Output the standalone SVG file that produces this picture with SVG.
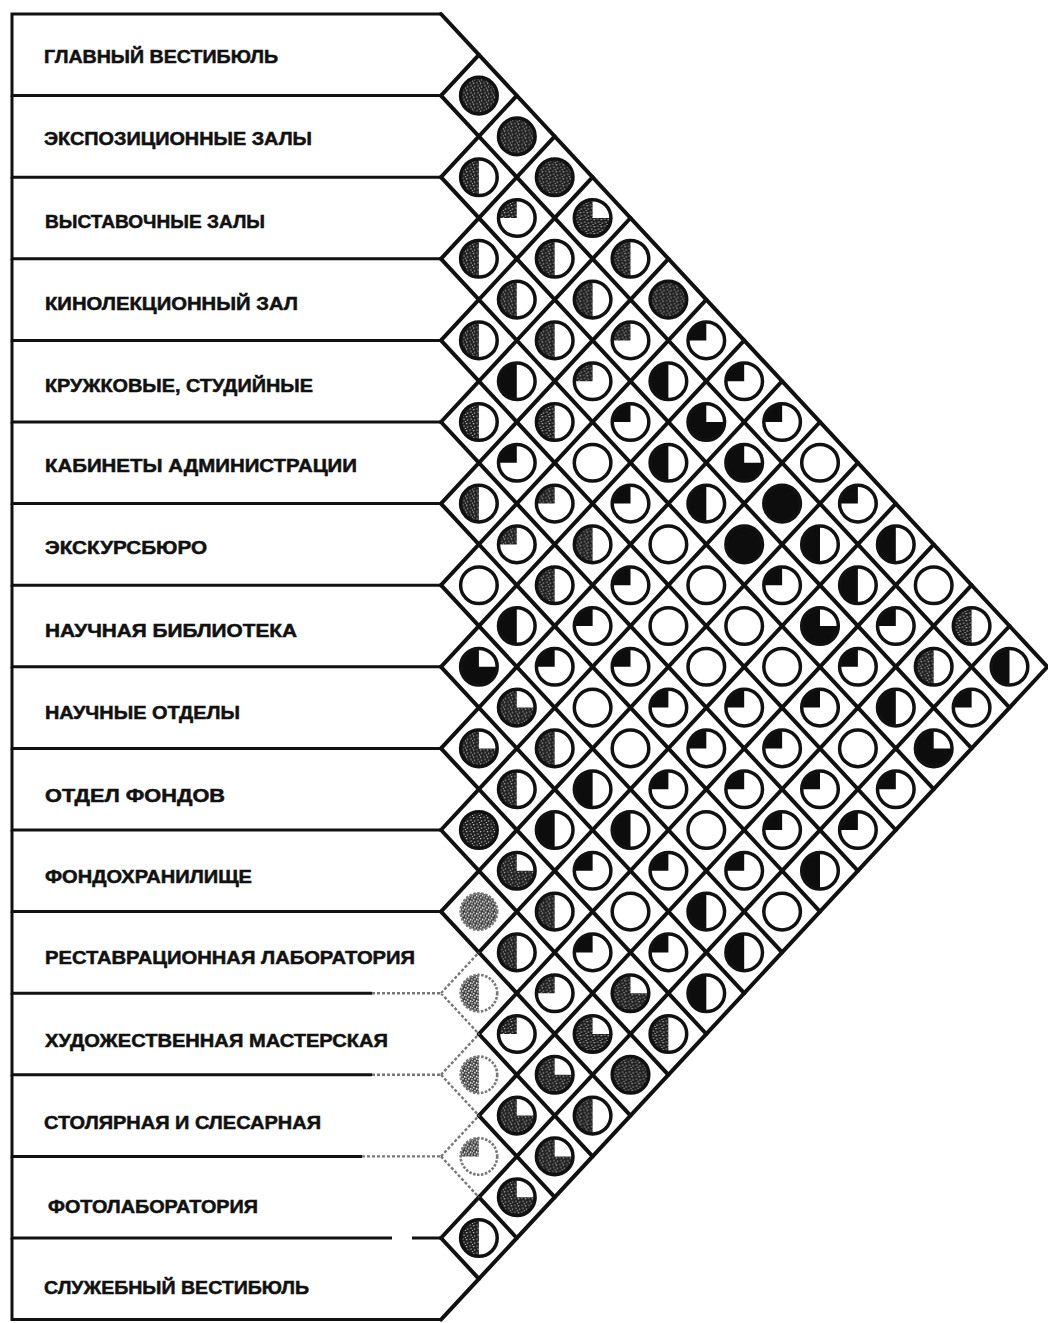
<svg xmlns="http://www.w3.org/2000/svg" width="1048" height="1323" viewBox="0 0 1048 1323">
<style>
.ln{fill:none;stroke:#111;stroke-width:4;stroke-linecap:round}
.fl{fill:none;stroke:#777;stroke-width:2.4;stroke-dasharray:3 2}
.bx{fill:none;stroke:#111;stroke-width:3}
.lbl{font-family:"Liberation Sans",Arial,sans-serif;font-weight:bold;font-size:18px;fill:#111;stroke:#111;stroke-width:0.5}
.k{fill:none;stroke:#111;stroke-width:3.5}
.kf{fill:none;stroke:#777;stroke-width:2.6;stroke-dasharray:2.5 1.5}
.b{fill:#0d0d0d}
.g{fill:url(#st)}
.gf{fill:url(#st2)}
</style>
<defs>
<pattern id="st" width="7" height="7" patternUnits="userSpaceOnUse">
<rect width="7" height="7" fill="#1e1e1e"/>
<rect x="1" y="1" width="1.3" height="1.3" fill="#c8c8c8"/>
<rect x="4.5" y="0.5" width="1.1" height="1.1" fill="#c8c8c8"/>
<rect x="5.5" y="3.5" width="1.2" height="1.2" fill="#c8c8c8"/>
<rect x="2" y="4.5" width="1.3" height="1.1" fill="#c8c8c8"/>
<rect x="0" y="6" width="1.1" height="1" fill="#c8c8c8"/>
</pattern>
<pattern id="st2" width="6" height="6" patternUnits="userSpaceOnUse">
<rect width="6" height="6" fill="#3a3a3a"/>
<rect x="0" y="0" width="1.6" height="1.4" fill="#fff"/>
<rect x="3" y="1" width="1.4" height="1.8" fill="#fff"/>
<rect x="1" y="3.2" width="1.8" height="1.4" fill="#fff"/>
<rect x="4.2" y="4.2" width="1.4" height="1.4" fill="#fff"/>
<rect x="5" y="2" width="1" height="1" fill="#fff"/>
</pattern>
<circle id="R" r="18.3"/>
<circle id="F" r="18.3"/>
<path id="H" d="M0,-18.3A18.3,18.3 0 0 0 0,18.3Z"/>
<path id="Q" d="M0,0V-18.3A18.3,18.3 0 0 0 -18.3,0Z"/>
<path id="T" d="M0,0V-18.3A18.3,18.3 0 1 0 18.3,0Z"/>
</defs>
<rect width="1048" height="1323" fill="#fff"/>

<g id="rows">
<g id="row1"><path class="bx" d="M441,14H12V95.6H441"/><text class="lbl" x="44" y="63" textLength="234" lengthAdjust="spacingAndGlyphs">ГЛАВНЫЙ ВЕСТИБЮЛЬ</text></g>
<g id="row2"><path class="bx" d="M12,95.6V177.2H441"/><text class="lbl" x="44" y="145" textLength="268" lengthAdjust="spacingAndGlyphs">ЭКСПОЗИЦИОННЫЕ ЗАЛЫ</text></g>
<g id="row3"><path class="bx" d="M12,177.2V258.8H441"/><text class="lbl" x="45" y="227.5" textLength="220" lengthAdjust="spacingAndGlyphs">ВЫСТАВОЧНЫЕ ЗАЛЫ</text></g>
<g id="row4"><path class="bx" d="M12,258.8V340.4H441"/><text class="lbl" x="45" y="309.5" textLength="253" lengthAdjust="spacingAndGlyphs">КИНОЛЕКЦИОННЫЙ ЗАЛ</text></g>
<g id="row5"><path class="bx" d="M12,340.4V422H441"/><text class="lbl" x="45" y="391.5" textLength="268" lengthAdjust="spacingAndGlyphs">КРУЖКОВЫЕ, СТУДИЙНЫЕ</text></g>
<g id="row6"><path class="bx" d="M12,422V503.6H441"/><text class="lbl" x="45" y="472" textLength="312" lengthAdjust="spacingAndGlyphs">КАБИНЕТЫ АДМИНИСТРАЦИИ</text></g>
<g id="row7"><path class="bx" d="M12,503.6V585.2H441"/><text class="lbl" x="45" y="553.5" textLength="162" lengthAdjust="spacingAndGlyphs">ЭКСКУРСБЮРО</text></g>
<g id="row8"><path class="bx" d="M12,585.2V666.8H441"/><text class="lbl" x="45" y="636.5" textLength="252" lengthAdjust="spacingAndGlyphs">НАУЧНАЯ БИБЛИОТЕКА</text></g>
<g id="row9"><path class="bx" d="M12,666.8V748.4H441"/><text class="lbl" x="45" y="718.5" textLength="195" lengthAdjust="spacingAndGlyphs">НАУЧНЫЕ ОТДЕЛЫ</text></g>
<g id="row10"><path class="bx" d="M12,748.4V830H441"/><text class="lbl" x="45" y="801.5" textLength="180" lengthAdjust="spacingAndGlyphs">ОТДЕЛ ФОНДОВ</text></g>
<g id="row11"><path class="bx" d="M12,830V911.6H441"/><text class="lbl" x="45" y="882.5" textLength="207" lengthAdjust="spacingAndGlyphs">ФОНДОХРАНИЛИЩЕ</text></g>
<g id="row12"><path class="bx" d="M12,911.6V993.2H372"/><path class="fl" d="M372,993.2H441"/><text class="lbl" x="45" y="963.5" textLength="370" lengthAdjust="spacingAndGlyphs">РЕСТАВРАЦИОННАЯ ЛАБОРАТОРИЯ</text></g>
<g id="row13"><path class="bx" d="M12,993.2V1074.8H372"/><path class="fl" d="M372,1074.8H441"/><text class="lbl" x="45" y="1046.5" textLength="343" lengthAdjust="spacingAndGlyphs">ХУДОЖЕСТВЕННАЯ МАСТЕРСКАЯ</text></g>
<g id="row14"><path class="bx" d="M12,1074.8V1156.4H362"/><path class="fl" d="M362,1156.4H441"/><text class="lbl" x="44" y="1128.5" textLength="277" lengthAdjust="spacingAndGlyphs">СТОЛЯРНАЯ И СЛЕСАРНАЯ</text></g>
<g id="row15"><path class="bx" d="M12,1156.4V1238H392M412,1238H441"/><text class="lbl" x="48" y="1212.5" textLength="210" lengthAdjust="spacingAndGlyphs">ФОТОЛАБОРАТОРИЯ</text></g>
<g id="row16"><path class="bx" d="M12,1238V1319.6H441"/><text class="lbl" x="44" y="1294" textLength="265" lengthAdjust="spacingAndGlyphs">СЛУЖЕБНЫЙ ВЕСТИБЮЛЬ</text></g>
</g>

<g id="connectors">
<path class="ln" d="M441,14L1047.4,666.8L441,1319.6"/>
<path class="ln" d="M441,95.6L1009.5,707.6M441,177.2L971.6,748.4M441,258.8L933.7,789.2M441,340.4L895.8,830M441,422L857.9,870.8M441,503.6L820,911.6M441,585.2L782.1,952.4M441,666.8L744.2,993.2M441,748.4L706.3,1034M441,830L668.4,1074.8M441,911.6L630.5,1115.6M478.9,1034L592.6,1156.4M478.9,1115.6L554.7,1197.2M478.9,1197.2L516.8,1238M441,1238L478.9,1278.8"/>
<path class="ln" d="M441,95.6L478.9,54.8M441,177.2L516.8,95.6M441,258.8L554.7,136.4M441,340.4L592.6,177.2M441,422L630.5,218M441,503.6L668.4,258.8M441,585.2L706.3,299.6M441,666.8L744.2,340.4M441,748.4L782.1,381.2M441,830L820,422M441,911.6L857.9,462.8M478.9,952.4L895.8,503.6M478.9,1034L933.7,544.4M478.9,1115.6L971.6,585.2M441,1238L1009.5,626"/>
<path class="fl" d="M441,993.2L478.9,952.4M441,993.2L478.9,1034M441,1074.8L478.9,1034M441,1074.8L478.9,1115.6M441,1156.4L478.9,1115.6M441,1156.4L478.9,1197.2"/>
</g>

<g id="cells">
<g id="c1-2" transform="translate(478.9 95.6)"><use href="#F" class="g"/><use href="#R" class="k"/></g>
<g id="c1-3" transform="translate(516.8 136.4)"><use href="#F" class="g"/><use href="#R" class="k"/></g>
<g id="c2-3" transform="translate(478.9 177.2)"><use href="#H" class="g"/><use href="#R" class="k"/></g>
<g id="c1-4" transform="translate(554.7 177.2)"><use href="#F" class="g"/><use href="#R" class="k"/></g>
<g id="c2-4" transform="translate(516.8 218)"><use href="#Q" class="g"/><use href="#R" class="k"/></g>
<g id="c1-5" transform="translate(592.6 218)"><use href="#T" class="g"/><use href="#R" class="k"/></g>
<g id="c3-4" transform="translate(478.9 258.8)"><use href="#H" class="g"/><use href="#R" class="k"/></g>
<g id="c2-5" transform="translate(554.7 258.8)"><use href="#H" class="g"/><use href="#R" class="k"/></g>
<g id="c1-6" transform="translate(630.5 258.8)"><use href="#H" class="g"/><use href="#R" class="k"/></g>
<g id="c3-5" transform="translate(516.8 299.6)"><use href="#H" class="g"/><use href="#R" class="k"/></g>
<g id="c2-6" transform="translate(592.6 299.6)"><use href="#H" class="g"/><use href="#R" class="k"/></g>
<g id="c1-7" transform="translate(668.4 299.6)"><use href="#F" class="g"/><use href="#R" class="k"/></g>
<g id="c4-5" transform="translate(478.9 340.4)"><use href="#H" class="g"/><use href="#R" class="k"/></g>
<g id="c3-6" transform="translate(554.7 340.4)"><use href="#H" class="g"/><use href="#R" class="k"/></g>
<g id="c2-7" transform="translate(630.5 340.4)"><use href="#Q" class="g"/><use href="#R" class="k"/></g>
<g id="c1-8" transform="translate(706.3 340.4)"><use href="#Q" class="b"/><use href="#R" class="k"/></g>
<g id="c4-6" transform="translate(516.8 381.2)"><use href="#H" class="b"/><use href="#R" class="k"/></g>
<g id="c3-7" transform="translate(592.6 381.2)"><use href="#Q" class="g"/><use href="#R" class="k"/></g>
<g id="c2-8" transform="translate(668.4 381.2)"><use href="#H" class="b"/><use href="#R" class="k"/></g>
<g id="c1-9" transform="translate(744.2 381.2)"><use href="#Q" class="b"/><use href="#R" class="k"/></g>
<g id="c5-6" transform="translate(478.9 422)"><use href="#H" class="g"/><use href="#R" class="k"/></g>
<g id="c4-7" transform="translate(554.7 422)"><use href="#H" class="g"/><use href="#R" class="k"/></g>
<g id="c3-8" transform="translate(630.5 422)"><use href="#Q" class="b"/><use href="#R" class="k"/></g>
<g id="c2-9" transform="translate(706.3 422)"><use href="#T" class="b"/><use href="#R" class="k"/></g>
<g id="c1-10" transform="translate(782.1 422)"><use href="#Q" class="b"/><use href="#R" class="k"/></g>
<g id="c5-7" transform="translate(516.8 462.8)"><use href="#Q" class="b"/><use href="#R" class="k"/></g>
<g id="c4-8" transform="translate(592.6 462.8)"><use href="#R" class="k"/></g>
<g id="c3-9" transform="translate(668.4 462.8)"><use href="#H" class="b"/><use href="#R" class="k"/></g>
<g id="c2-10" transform="translate(744.2 462.8)"><use href="#T" class="b"/><use href="#R" class="k"/></g>
<g id="c1-11" transform="translate(820 462.8)"><use href="#R" class="k"/></g>
<g id="c6-7" transform="translate(478.9 503.6)"><use href="#H" class="g"/><use href="#R" class="k"/></g>
<g id="c5-8" transform="translate(554.7 503.6)"><use href="#Q" class="g"/><use href="#R" class="k"/></g>
<g id="c4-9" transform="translate(630.5 503.6)"><use href="#Q" class="b"/><use href="#R" class="k"/></g>
<g id="c3-10" transform="translate(706.3 503.6)"><use href="#H" class="b"/><use href="#R" class="k"/></g>
<g id="c2-11" transform="translate(782.1 503.6)"><use href="#F" class="b"/><use href="#R" class="k"/></g>
<g id="c1-12" transform="translate(857.9 503.6)"><use href="#Q" class="b"/><use href="#R" class="k"/></g>
<g id="c6-8" transform="translate(516.8 544.4)"><use href="#Q" class="g"/><use href="#R" class="k"/></g>
<g id="c5-9" transform="translate(592.6 544.4)"><use href="#H" class="g"/><use href="#R" class="k"/></g>
<g id="c4-10" transform="translate(668.4 544.4)"><use href="#R" class="k"/></g>
<g id="c3-11" transform="translate(744.2 544.4)"><use href="#F" class="b"/><use href="#R" class="k"/></g>
<g id="c2-12" transform="translate(820 544.4)"><use href="#H" class="b"/><use href="#R" class="k"/></g>
<g id="c1-13" transform="translate(895.8 544.4)"><use href="#H" class="b"/><use href="#R" class="k"/></g>
<g id="c7-8" transform="translate(478.9 585.2)"><use href="#R" class="k"/></g>
<g id="c6-9" transform="translate(554.7 585.2)"><use href="#H" class="g"/><use href="#R" class="k"/></g>
<g id="c5-10" transform="translate(630.5 585.2)"><use href="#Q" class="b"/><use href="#R" class="k"/></g>
<g id="c4-11" transform="translate(706.3 585.2)"><use href="#R" class="k"/></g>
<g id="c3-12" transform="translate(782.1 585.2)"><use href="#Q" class="b"/><use href="#R" class="k"/></g>
<g id="c2-13" transform="translate(857.9 585.2)"><use href="#H" class="b"/><use href="#R" class="k"/></g>
<g id="c1-14" transform="translate(933.7 585.2)"><use href="#R" class="k"/></g>
<g id="c7-9" transform="translate(516.8 626)"><use href="#H" class="b"/><use href="#R" class="k"/></g>
<g id="c6-10" transform="translate(592.6 626)"><use href="#Q" class="b"/><use href="#R" class="k"/></g>
<g id="c5-11" transform="translate(668.4 626)"><use href="#R" class="k"/></g>
<g id="c4-12" transform="translate(744.2 626)"><use href="#R" class="k"/></g>
<g id="c3-13" transform="translate(820 626)"><use href="#T" class="b"/><use href="#R" class="k"/></g>
<g id="c2-14" transform="translate(895.8 626)"><use href="#Q" class="b"/><use href="#R" class="k"/></g>
<g id="c1-15" transform="translate(971.6 626)"><use href="#H" class="g"/><use href="#R" class="k"/></g>
<g id="c8-9" transform="translate(478.9 666.8)"><use href="#T" class="b"/><use href="#R" class="k"/></g>
<g id="c7-10" transform="translate(554.7 666.8)"><use href="#Q" class="b"/><use href="#R" class="k"/></g>
<g id="c6-11" transform="translate(630.5 666.8)"><use href="#Q" class="b"/><use href="#R" class="k"/></g>
<g id="c5-12" transform="translate(706.3 666.8)"><use href="#R" class="k"/></g>
<g id="c4-13" transform="translate(782.1 666.8)"><use href="#R" class="k"/></g>
<g id="c3-14" transform="translate(857.9 666.8)"><use href="#Q" class="b"/><use href="#R" class="k"/></g>
<g id="c2-15" transform="translate(933.7 666.8)"><use href="#H" class="g"/><use href="#R" class="k"/></g>
<g id="c1-16" transform="translate(1009.5 666.8)"><use href="#H" class="b"/><use href="#R" class="k"/></g>
<g id="c8-10" transform="translate(516.8 707.6)"><use href="#T" class="g"/><use href="#R" class="k"/></g>
<g id="c7-11" transform="translate(592.6 707.6)"><use href="#R" class="k"/></g>
<g id="c6-12" transform="translate(668.4 707.6)"><use href="#Q" class="b"/><use href="#R" class="k"/></g>
<g id="c5-13" transform="translate(744.2 707.6)"><use href="#Q" class="b"/><use href="#R" class="k"/></g>
<g id="c4-14" transform="translate(820 707.6)"><use href="#Q" class="b"/><use href="#R" class="k"/></g>
<g id="c3-15" transform="translate(895.8 707.6)"><use href="#H" class="b"/><use href="#R" class="k"/></g>
<g id="c2-16" transform="translate(971.6 707.6)"><use href="#Q" class="b"/><use href="#R" class="k"/></g>
<g id="c9-10" transform="translate(478.9 748.4)"><use href="#T" class="g"/><use href="#R" class="k"/></g>
<g id="c8-11" transform="translate(554.7 748.4)"><use href="#H" class="g"/><use href="#R" class="k"/></g>
<g id="c7-12" transform="translate(630.5 748.4)"><use href="#R" class="k"/></g>
<g id="c6-13" transform="translate(706.3 748.4)"><use href="#Q" class="b"/><use href="#R" class="k"/></g>
<g id="c5-14" transform="translate(782.1 748.4)"><use href="#Q" class="b"/><use href="#R" class="k"/></g>
<g id="c4-15" transform="translate(857.9 748.4)"><use href="#R" class="k"/></g>
<g id="c3-16" transform="translate(933.7 748.4)"><use href="#T" class="b"/><use href="#R" class="k"/></g>
<g id="c9-11" transform="translate(516.8 789.2)"><use href="#H" class="g"/><use href="#R" class="k"/></g>
<g id="c8-12" transform="translate(592.6 789.2)"><use href="#H" class="b"/><use href="#R" class="k"/></g>
<g id="c7-13" transform="translate(668.4 789.2)"><use href="#Q" class="b"/><use href="#R" class="k"/></g>
<g id="c6-14" transform="translate(744.2 789.2)"><use href="#Q" class="b"/><use href="#R" class="k"/></g>
<g id="c5-15" transform="translate(820 789.2)"><use href="#Q" class="b"/><use href="#R" class="k"/></g>
<g id="c4-16" transform="translate(895.8 789.2)"><use href="#Q" class="b"/><use href="#R" class="k"/></g>
<g id="c10-11" transform="translate(478.9 830)"><use href="#F" class="g"/><use href="#R" class="k"/></g>
<g id="c9-12" transform="translate(554.7 830)"><use href="#H" class="b"/><use href="#R" class="k"/></g>
<g id="c8-13" transform="translate(630.5 830)"><use href="#H" class="b"/><use href="#R" class="k"/></g>
<g id="c7-14" transform="translate(706.3 830)"><use href="#R" class="k"/></g>
<g id="c6-15" transform="translate(782.1 830)"><use href="#Q" class="b"/><use href="#R" class="k"/></g>
<g id="c5-16" transform="translate(857.9 830)"><use href="#Q" class="b"/><use href="#R" class="k"/></g>
<g id="c10-12" transform="translate(516.8 870.8)"><use href="#T" class="g"/><use href="#R" class="k"/></g>
<g id="c9-13" transform="translate(592.6 870.8)"><use href="#Q" class="b"/><use href="#R" class="k"/></g>
<g id="c8-14" transform="translate(668.4 870.8)"><use href="#Q" class="b"/><use href="#R" class="k"/></g>
<g id="c7-15" transform="translate(744.2 870.8)"><use href="#Q" class="b"/><use href="#R" class="k"/></g>
<g id="c6-16" transform="translate(820 870.8)"><use href="#H" class="b"/><use href="#R" class="k"/></g>
<g id="c11-12" transform="translate(478.9 911.6)"><use href="#F" class="gf"/><use href="#R" class="kf"/></g>
<g id="c10-13" transform="translate(554.7 911.6)"><use href="#H" class="g"/><use href="#R" class="k"/></g>
<g id="c9-14" transform="translate(630.5 911.6)"><use href="#R" class="k"/></g>
<g id="c8-15" transform="translate(706.3 911.6)"><use href="#H" class="b"/><use href="#R" class="k"/></g>
<g id="c7-16" transform="translate(782.1 911.6)"><use href="#R" class="k"/></g>
<g id="c11-13" transform="translate(516.8 952.4)"><use href="#H" class="g"/><use href="#R" class="k"/></g>
<g id="c10-14" transform="translate(592.6 952.4)"><use href="#Q" class="b"/><use href="#R" class="k"/></g>
<g id="c9-15" transform="translate(668.4 952.4)"><use href="#Q" class="b"/><use href="#R" class="k"/></g>
<g id="c8-16" transform="translate(744.2 952.4)"><use href="#H" class="b"/><use href="#R" class="k"/></g>
<g id="c12-13" transform="translate(478.9 993.2)"><use href="#H" class="gf"/><use href="#R" class="kf"/></g>
<g id="c11-14" transform="translate(554.7 993.2)"><use href="#Q" class="g"/><use href="#R" class="k"/></g>
<g id="c10-15" transform="translate(630.5 993.2)"><use href="#T" class="g"/><use href="#R" class="k"/></g>
<g id="c9-16" transform="translate(706.3 993.2)"><use href="#H" class="b"/><use href="#R" class="k"/></g>
<g id="c12-14" transform="translate(516.8 1034)"><use href="#Q" class="g"/><use href="#R" class="k"/></g>
<g id="c11-15" transform="translate(592.6 1034)"><use href="#T" class="g"/><use href="#R" class="k"/></g>
<g id="c10-16" transform="translate(668.4 1034)"><use href="#H" class="g"/><use href="#R" class="k"/></g>
<g id="c13-14" transform="translate(478.9 1074.8)"><use href="#H" class="gf"/><use href="#R" class="kf"/></g>
<g id="c12-15" transform="translate(554.7 1074.8)"><use href="#T" class="g"/><use href="#R" class="k"/></g>
<g id="c11-16" transform="translate(630.5 1074.8)"><use href="#F" class="g"/><use href="#R" class="k"/></g>
<g id="c13-15" transform="translate(516.8 1115.6)"><use href="#T" class="g"/><use href="#R" class="k"/></g>
<g id="c12-16" transform="translate(592.6 1115.6)"><use href="#H" class="g"/><use href="#R" class="k"/></g>
<g id="c14-15" transform="translate(478.9 1156.4)"><use href="#Q" class="gf"/><use href="#R" class="kf"/></g>
<g id="c13-16" transform="translate(554.7 1156.4)"><use href="#T" class="g"/><use href="#R" class="k"/></g>
<g id="c14-16" transform="translate(516.8 1197.2)"><use href="#T" class="g"/><use href="#R" class="k"/></g>
<g id="c15-16" transform="translate(478.9 1238)"><use href="#H" class="g"/><use href="#R" class="k"/></g>
</g>
</svg>
